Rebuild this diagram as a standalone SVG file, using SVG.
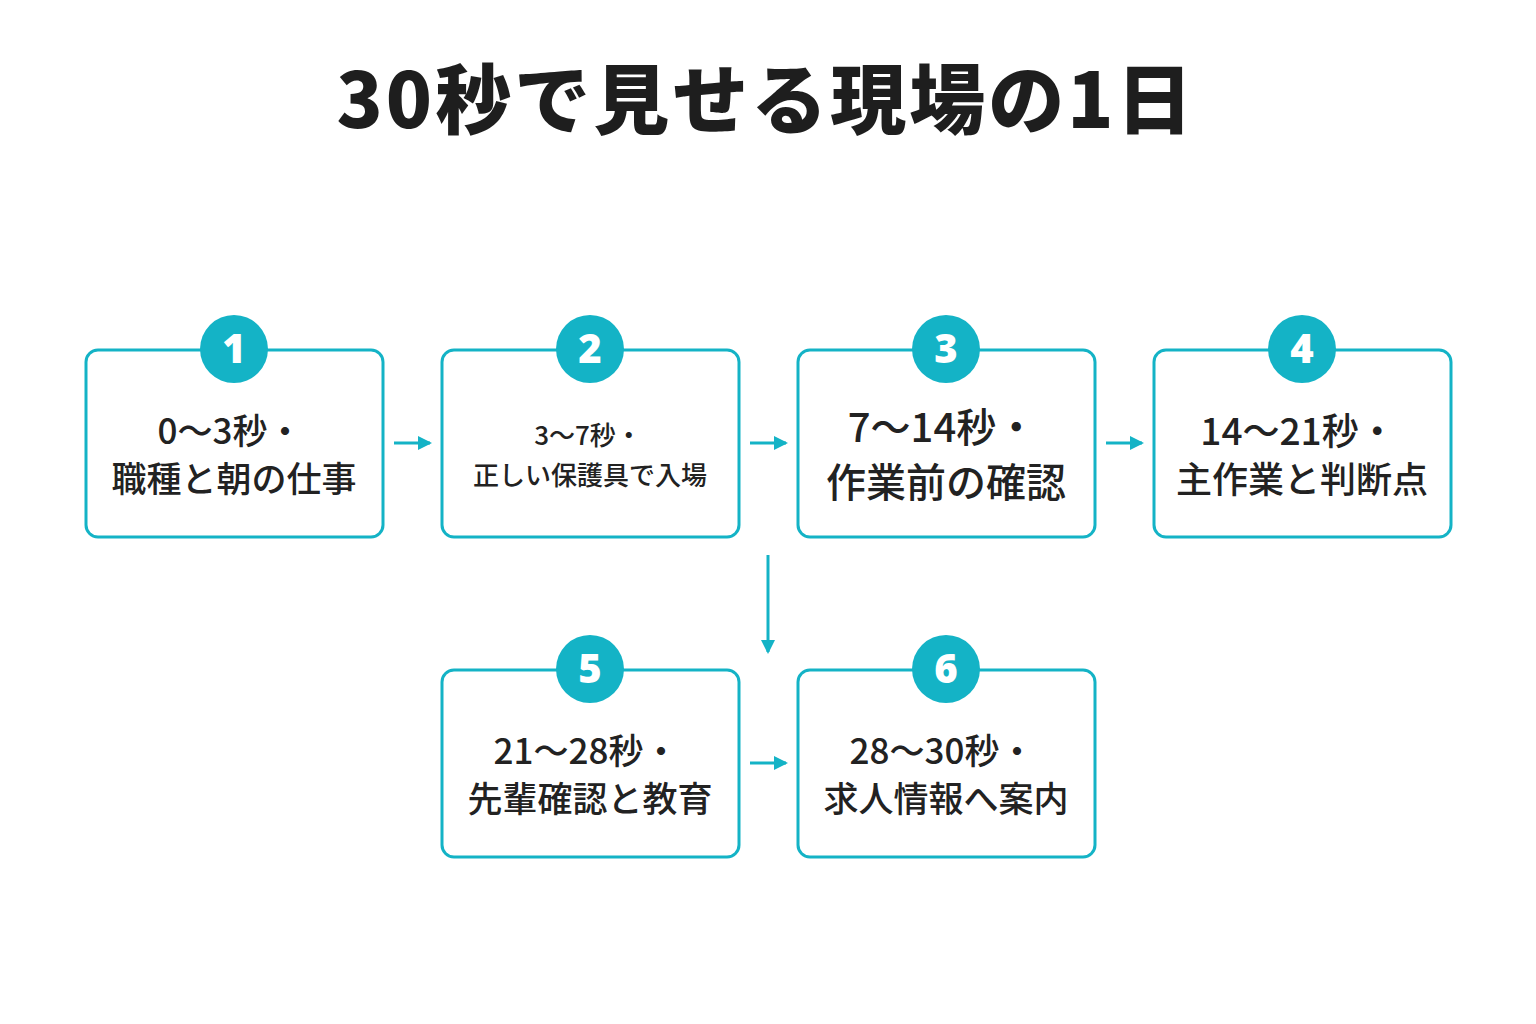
<svg xmlns="http://www.w3.org/2000/svg" width="1536" height="1024" viewBox="0 0 1536 1024">
<style>
.box{fill:#fff;stroke:#14b3c6;stroke-width:3}
.c{fill:#14b3c6}
.n{fill:#fff;font-family:"Noto Sans","Noto Sans CJK JP",sans-serif;font-weight:900;font-size:40px;text-anchor:middle}
.t{fill:#222;font-family:"Noto Sans CJK JP",sans-serif;font-weight:500;text-anchor:middle}
.ln{stroke:#14b3c6;stroke-width:3;fill:none}
</style>
<defs><marker id="a" markerWidth="14" markerHeight="14" refX="12" refY="7" orient="auto" markerUnits="userSpaceOnUse" viewBox="0 0 14 14"><path d="M0,0L14,7L0,14z" fill="#14b3c6"/></marker></defs>
<rect width="1536" height="1024" fill="#fff"/>
<text x="766" y="128" font-family="Noto Sans CJK JP,sans-serif" font-weight="900" font-size="76" letter-spacing="3" fill="#1e1e1e" text-anchor="middle">30秒で見せる現場の1日</text>
<g id="connectors">
<path class="ln" d="M394,443H430" marker-end="url(#a)"/>
<path class="ln" d="M750,443H786" marker-end="url(#a)"/>
<path class="ln" d="M1106,443H1142" marker-end="url(#a)"/>
<path class="ln" d="M768,555V652" marker-end="url(#a)"/>
<path class="ln" d="M750,763H786" marker-end="url(#a)"/>
</g>
<g id="n1"><rect class="box" x="86" y="350" width="297" height="187" rx="12"/><circle class="c" cx="234" cy="349" r="34"/><text class="n" x="234" y="363">1</text><text class="t" font-size="35" x="230" y="444">0〜3秒・</text><text class="t" font-size="35" x="234" y="492">職種と朝の仕事</text></g>
<g id="n2"><rect class="box" x="442" y="350" width="297" height="187" rx="12"/><circle class="c" cx="590" cy="349" r="34"/><text class="n" x="590" y="363">2</text><text class="t" font-size="26" x="588" y="445">3〜7秒・</text><text class="t" font-size="26" x="590" y="485">正しい保護具で入場</text></g>
<g id="n3"><rect class="box" x="798" y="350" width="297" height="187" rx="12"/><circle class="c" cx="946" cy="349" r="34"/><text class="n" x="946" y="363">3</text><text class="t" font-size="40" x="942" y="442">7〜14秒・</text><text class="t" font-size="40" x="946" y="497">作業前の確認</text></g>
<g id="n4"><rect class="box" x="1154" y="350" width="297" height="187" rx="12"/><circle class="c" cx="1302" cy="349" r="34"/><text class="n" x="1302" y="363">4</text><text class="t" font-size="37" x="1298" y="445">14〜21秒・</text><text class="t" font-size="36" x="1302" y="493">主作業と判断点</text></g>
<g id="n5"><rect class="box" x="442" y="670" width="297" height="187" rx="12"/><circle class="c" cx="590" cy="669" r="34"/><text class="n" x="590" y="683">5</text><text class="t" font-size="35" x="586" y="764">21〜28秒・</text><text class="t" font-size="35" x="590" y="812">先輩確認と教育</text></g>
<g id="n6"><rect class="box" x="798" y="670" width="297" height="187" rx="12"/><circle class="c" cx="946" cy="669" r="34"/><text class="n" x="946" y="683">6</text><text class="t" font-size="35" x="942" y="764">28〜30秒・</text><text class="t" font-size="35" x="946" y="812">求人情報へ案内</text></g>
</svg>
